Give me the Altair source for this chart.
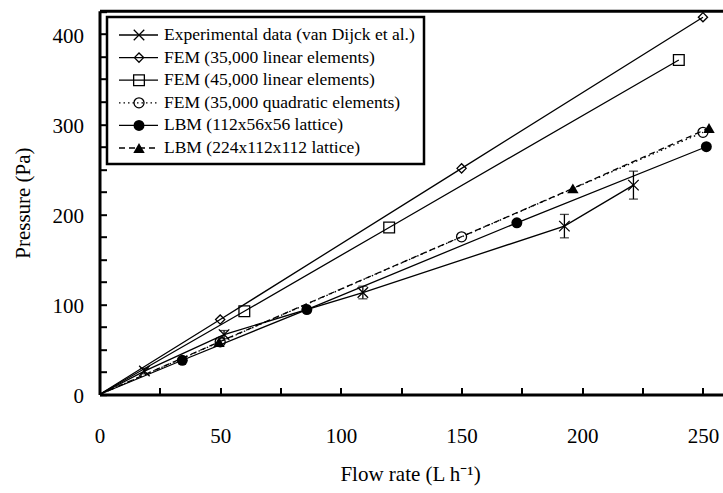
import altair as alt
import pandas as pd

FONT = "Liberation Serif"

# ---- data ----
series = [
    "Experimental data (van Dijck et al.)",
    "FEM (35,000 linear elements)",
    "FEM (45,000 linear elements)",
    "FEM (35,000 quadratic elements)",
    "LBM (112x56x56 lattice)",
    "LBM (224x112x112 lattice)",
]

exp_x = [0, 18.6, 51.6, 109.1, 192.6, 221.2]
exp_y = [0, 26.0, 66.5, 113.2, 186.9, 232.4]
exp_err = [0, 3.0, 4.5, 7.0, 13.0, 15.5]

fem35_x = [0, 50, 150, 250]
fem35_y = [0, 83.2, 251.0, 418.8]

fem45_x = [0, 60, 120, 240]
fem45_y = [0, 92.4, 185.4, 371.3]

quad_x = [0, 50, 150, 250]
quad_y = [0, 58.5, 175.0, 291.0]

lbm1_x = [0, 34.3, 85.9, 172.9, 251.4]
lbm1_y = [0, 38.0, 94.3, 190.6, 275.0]

lbm2_x = [0, 49.5, 196.1, 252.5]
lbm2_y = [0, 58.3, 228.8, 295.8]

x_labels = [0, 50, 100, 150, 200, 250]
y_labels = [0, 100, 200, 300, 400]
x_minor = [0, 25, 50, 75, 100, 125, 150, 175, 200, 225, 250]
y_minor = [0, 25, 50, 75, 100, 125, 150, 175, 200, 225, 250, 275, 300, 325, 350, 375, 400, 425]

# ---- layout ----
W, H = 623.5, 383.8
PAD = {"left": 99.5, "top": 10.7, "right": 0, "bottom": 98.5}
XMAX, YMAX = 258.3, 426.0

XS = alt.Scale(domain=[0, XMAX], nice=False, zero=False)
YS = alt.Scale(domain=[0, YMAX], nice=False, zero=False)

SW = 1.3
X_SHAPE = "M-1,-1L1,1M-1,1L1,-1"
styles = [
    dict(dash=None, shape=X_SHAPE, filled=False, size=110),
    dict(dash=None, shape="diamond", filled=False, size=85),
    dict(dash=None, shape="square", filled=False, size=115),
    dict(dash=[1.5, 3], shape="circle", filled=False, size=100),
    dict(dash=None, shape="circle", filled=True, size=120),
    dict(dash=[6, 4], shape="triangle-up", filled=True, size=130),
]
data_xy = [
    (exp_x, exp_y), (fem35_x, fem35_y), (fem45_x, fem45_y),
    (quad_x, quad_y), (lbm1_x, lbm1_y), (lbm2_x, lbm2_y),
]

layers = []

for (xs, ys), st in zip(data_xy, styles):
    df = pd.DataFrame({"x": xs, "y": ys})
    line_kw = dict(color="black", strokeWidth=SW)
    if st["dash"]:
        line_kw["strokeDash"] = st["dash"]
    enc = dict(x=alt.X("x:Q", scale=XS, axis=None), y=alt.Y("y:Q", scale=YS, axis=None))
    layers.append(alt.Chart(df).mark_line(**line_kw).encode(**enc))
    pt_kw = dict(shape=st["shape"], size=st["size"], color="black", strokeWidth=SW,
                 opacity=1, filled=st["filled"])
    layers.append(alt.Chart(df).transform_filter("datum.x > 0").mark_point(**pt_kw).encode(**enc))

# error bars of the experimental data
err_df = pd.DataFrame({"x": exp_x, "y": exp_y, "e": exp_err})
err_base = alt.Chart(err_df).transform_filter("datum.e > 0").transform_calculate(
    lo="datum.y - datum.e", hi="datum.y + datum.e")
layers.append(err_base.mark_rule(color="black", strokeWidth=SW).encode(
    x=alt.X("x:Q", scale=XS, axis=None),
    y=alt.Y("lo:Q", scale=YS, axis=None), y2="hi:Q"))
for f in ["lo", "hi"]:
    layers.append(err_base.mark_tick(orient="horizontal", size=9, thickness=SW, color="black").encode(
        x=alt.X("x:Q", scale=XS, axis=None),
        y=alt.Y(f + ":Q", scale=YS, axis=None)))

# ---- axes ----
axdf = pd.DataFrame({"x": exp_x, "y": exp_y})
main_axes = alt.Chart(axdf).mark_point(opacity=0).encode(
    x=alt.X("x:Q", scale=XS, axis=alt.Axis(
        orient="bottom", values=x_labels, format="d", tickSize=0, grid=False,
        domainWidth=3, domainColor="black", labelFont=FONT, labelFontSize=21,
        labelColor="black", labelPadding=31, labelFlush=False, labelOverlap=False,
        title="Flow rate (L h\u207b\u00b9)", titleFont=FONT, titleFontSize=21,
        titleFontWeight="normal", titleColor="black", titleX=310.5,
        titleY=80, titleBaseline="middle", titleAlign="center")),
    y=alt.Y("y:Q", scale=YS, axis=alt.Axis(
        orient="left", values=y_labels, format="d", tickSize=0, grid=False,
        domainWidth=3, domainColor="black", labelFont=FONT, labelFontSize=21,
        labelColor="black", labelPadding=16, labelOffset=2, labelFlush=False,
        labelOverlap=False, title="Pressure (Pa)", titleFont=FONT, titleFontSize=21,
        titleFontWeight="normal", titleColor="black", titleX=-76, titleY=H / 2,
        titleAngle=270, titleBaseline="middle", titleAlign="center")),
)
tick_axes = alt.Chart(axdf).mark_point(opacity=0).encode(
    x=alt.X("x:Q", scale=XS, title=None, axis=alt.Axis(
        orient="top", offset=-H, values=x_minor, labels=False, domain=False,
        tickSize=7, tickWidth=2, tickColor="black", grid=False)),
    y=alt.Y("y:Q", scale=YS, title=None, axis=alt.Axis(
        orient="right", offset=-W, values=y_minor, labels=False, domain=False,
        tickSize=7, tickWidth=2, tickColor="black", grid=False)),
)
top_border = alt.Chart(axdf).mark_point(opacity=0).encode(
    x=alt.X("x:Q", scale=XS, title=None, axis=alt.Axis(
        orient="top", domain=True, domainWidth=3, domainColor="black",
        ticks=False, labels=False, grid=False)),
    y=alt.Y("y:Q", scale=YS, axis=None),
)
layers += [main_axes, tick_axes, top_border]

# ---- legend (drawn in pixel space of the plot) ----
LEG_Y = alt.Scale(domain=[0, 5], range=[24.3, 137.3])
box = pd.DataFrame({"a": [0]})
layers.append(alt.Chart(box).mark_rect(fill="white", stroke="black", strokeWidth=2.5).encode(
    x=alt.value(7.5), x2=alt.value(324.5), y=alt.value(6.3), y2=alt.value(153.3)))

for i, (name, st) in enumerate(zip(series, styles)):
    ldf = pd.DataFrame({"row": [i], "name": [name]})
    yenc = alt.Y("row:Q", scale=LEG_Y, axis=None)
    rule_kw = dict(color="black", strokeWidth=SW)
    if st["dash"]:
        rule_kw["strokeDash"] = st["dash"]
    layers.append(alt.Chart(ldf).mark_rule(**rule_kw).encode(
        x=alt.value(19.5), x2=alt.value(58.5), y=yenc))
    pt_kw = dict(shape=st["shape"], size=st["size"], color="black", strokeWidth=SW,
                 opacity=1, filled=st["filled"])
    layers.append(alt.Chart(ldf).mark_point(**pt_kw).encode(x=alt.value(39.5), y=yenc))
    layers.append(alt.Chart(ldf).mark_text(align="left", baseline="middle", font=FONT,
                                           fontSize=17.5, color="black").encode(
        x=alt.value(64.5), y=yenc, text="name:N"))

chart = alt.layer(*layers).resolve_scale(x="independent", y="independent").properties(
    width=W, height=H, padding=PAD,
    autosize=alt.AutoSizeParams(type="none"),
    background="white",
).configure_view(stroke="transparent")

chart.save("out.html", embed_options={"renderer": "svg", "actions": False})
